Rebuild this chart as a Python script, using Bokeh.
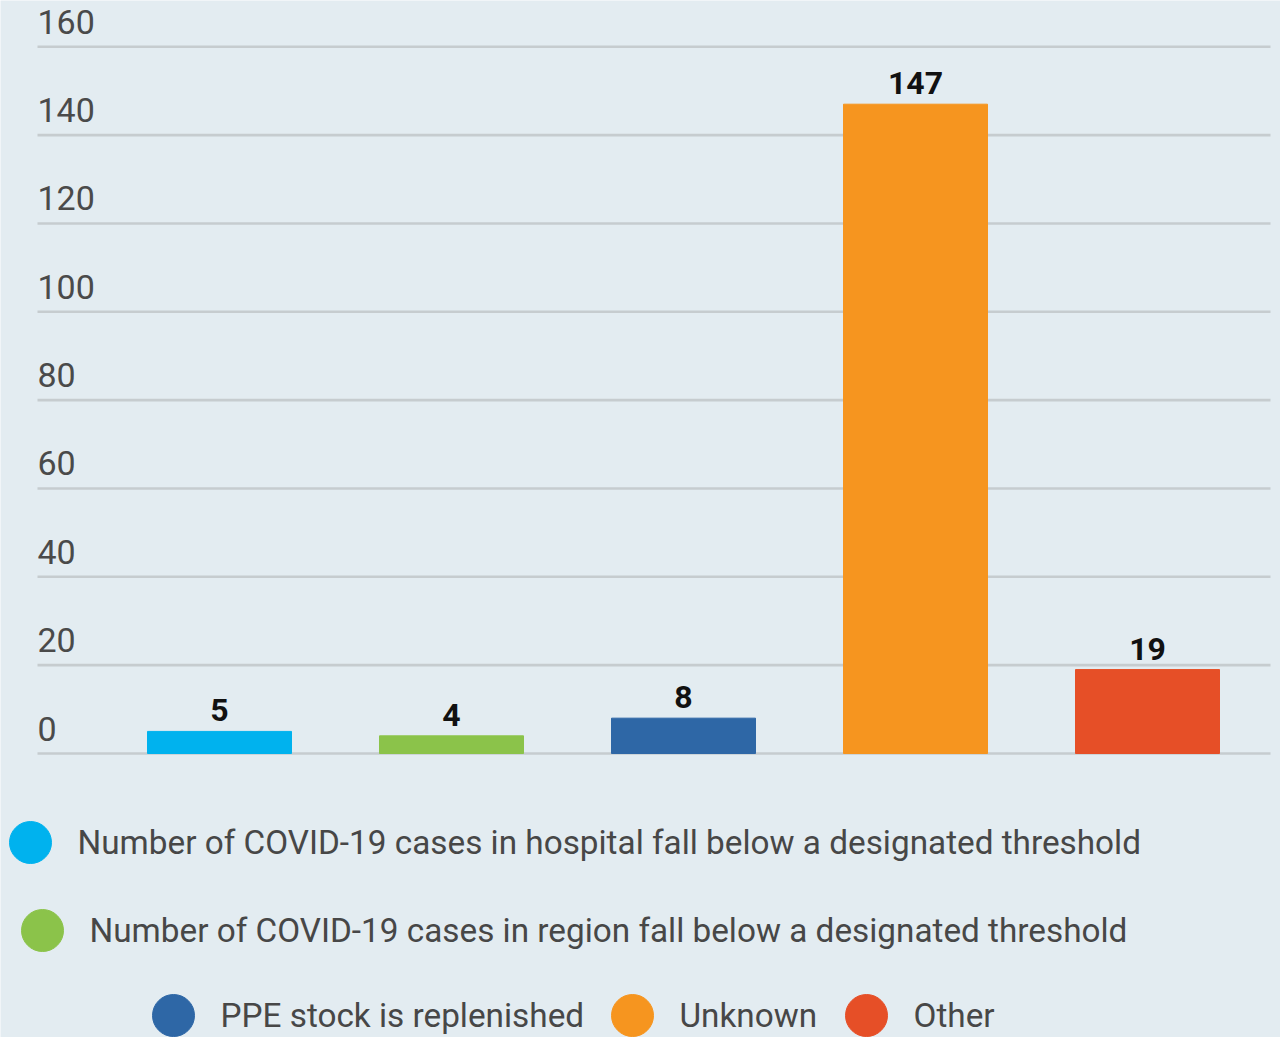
from bokeh.plotting import figure
from bokeh.models import Range1d, ColumnDataSource
from bokeh.core.properties import value
from bokeh.embed import file_html
from bokeh.resources import INLINE

# ---- data ----
categories = [
    "Number of COVID-19 cases in hospital fall below a designated threshold",
    "Number of COVID-19 cases in region fall below a designated threshold",
    "PPE stock is replenished",
    "Unknown",
    "Other",
]
counts = [5, 4, 8, 147, 19]
colors = ["#00b2ee", "#8bc34a", "#2e67a6", "#f6951f", "#e64f27"]
y_ticks = [0, 20, 40, 60, 80, 100, 120, 140, 160]
y_tick_labels = ["0", "20", "40", "60", "80", "100", "120", "140", "160"]

BG = "#e3ecf1"
GRID = "#c6cccf"
FONT = "Roboto"

# ---- pixel layout (page pixels) ----
W, H = 1280, 1037
X0_PX, X_STEP_PX = 219, 232          # centre of first bar, spacing of bars
Y0_PX, Y_PX_PER_UNIT = 753, 4.417    # baseline, pixels per unit
GRID_LEFT_PX, GRID_RIGHT_PX = 37, 1270


def dx(px):
    return (px - X0_PX) / X_STEP_PX


def dy(py):
    return (Y0_PX - py) / Y_PX_PER_UNIT


p = figure(width=W, height=H, output_backend="svg", toolbar_location=None,
           x_range=Range1d(dx(0), dx(W)), y_range=Range1d(dy(H), dy(0)),
           min_border=0)
p.background_fill_color = BG
p.border_fill_color = BG
p.outline_line_color = None
p.axis.visible = False
p.grid.visible = False

# grid lines (one per y tick)
n = len(y_ticks)
p.segment(x0=[dx(GRID_LEFT_PX)] * n, x1=[dx(GRID_RIGHT_PX)] * n,
          y0=y_ticks, y1=y_ticks, line_color=GRID, line_width=2.6)

# tick labels, sitting above their grid line
tick_src = ColumnDataSource(dict(x=[dx(GRID_LEFT_PX)] * n, y=y_ticks, t=y_tick_labels))
p.text(x="x", y="y", text="t", source=tick_src, text_align="left",
       text_baseline="alphabetic", x_offset=0, y_offset=-25,
       text_font=value(FONT), text_font_size="34px", text_color="#4a4a4a")

# bars + value labels
xs = list(range(len(categories)))
src = ColumnDataSource(dict(x=xs, top=counts, color=colors,
                            label=[str(c) for c in counts]))
p.vbar(x="x", top="top", bottom=0, width=144 / X_STEP_PX, color="color", source=src)
p.text(x="x", y="top", text="label", source=src, text_align="center",
       text_baseline="alphabetic", y_offset=-21, text_font=value(FONT),
       text_font_style="bold", text_font_size="32px", text_color="#111111")

# ---- legend ----
marker_px_x = [30, 42, 173, 632, 866]
marker_px_y = [842, 930, 1015, 1015, 1015]
lsrc = ColumnDataSource(dict(
    x=[dx(v) for v in marker_px_x], y=[dy(v) for v in marker_px_y],
    tx=[dx(v + 47) for v in marker_px_x], color=colors, name=categories))
p.scatter(x="x", y="y", size=42, color="color", source=lsrc)
p.text(x="tx", y="y", text="name", source=lsrc, text_align="left",
       text_baseline="middle", text_font=value(FONT), text_font_size="33.3px",
       text_color="#474747")

html = file_html(p, INLINE)
open("out.html", "w").write(html)
